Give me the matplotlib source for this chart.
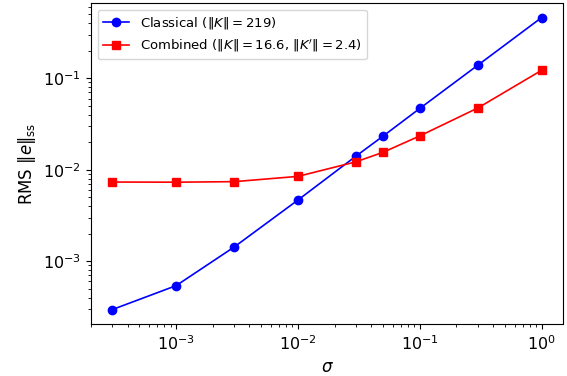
import matplotlib
matplotlib.use("Agg")
import matplotlib.pyplot as plt

# noise levels and steady-state RMS error
sigma = [3e-4, 1e-3, 3e-3, 1e-2, 3e-2, 5e-2, 1e-1, 3e-1, 1.0]
rms_classical = [2.96e-4, 5.4e-4, 1.43e-3, 4.66e-3, 1.41e-2, 2.33e-2, 4.67e-2, 0.139, 0.46]
rms_combined = [7.33e-3, 7.3e-3, 7.4e-3, 8.45e-3, 1.22e-2, 1.55e-2, 2.34e-2, 4.73e-2, 0.122]

fig, ax = plt.subplots(figsize=(5.67, 3.76), dpi=100)
fig.subplots_adjust(left=0.1605, right=0.993, top=0.992, bottom=0.138)

ax.plot(sigma, rms_classical, 'b-o', markersize=6, linewidth=1.2,
        label=r'Classical ($\|K\| = 219$)')
ax.plot(sigma, rms_combined, 'r-s', markersize=6, linewidth=1.2,
        label=r"Combined ($\|K\| = 16.6$, $\|K'\| = 2.4$)")

ax.set_xscale('log')
ax.set_yscale('log')
ax.tick_params(labelsize=11.5)
ax.set_xlabel(r'$\sigma$', fontsize=12)
ax.set_ylabel(r'RMS $\|e\|_{\mathrm{ss}}$', fontsize=12)
ax.legend(loc='upper left', fontsize=9.5)

fig.savefig('out.png')
